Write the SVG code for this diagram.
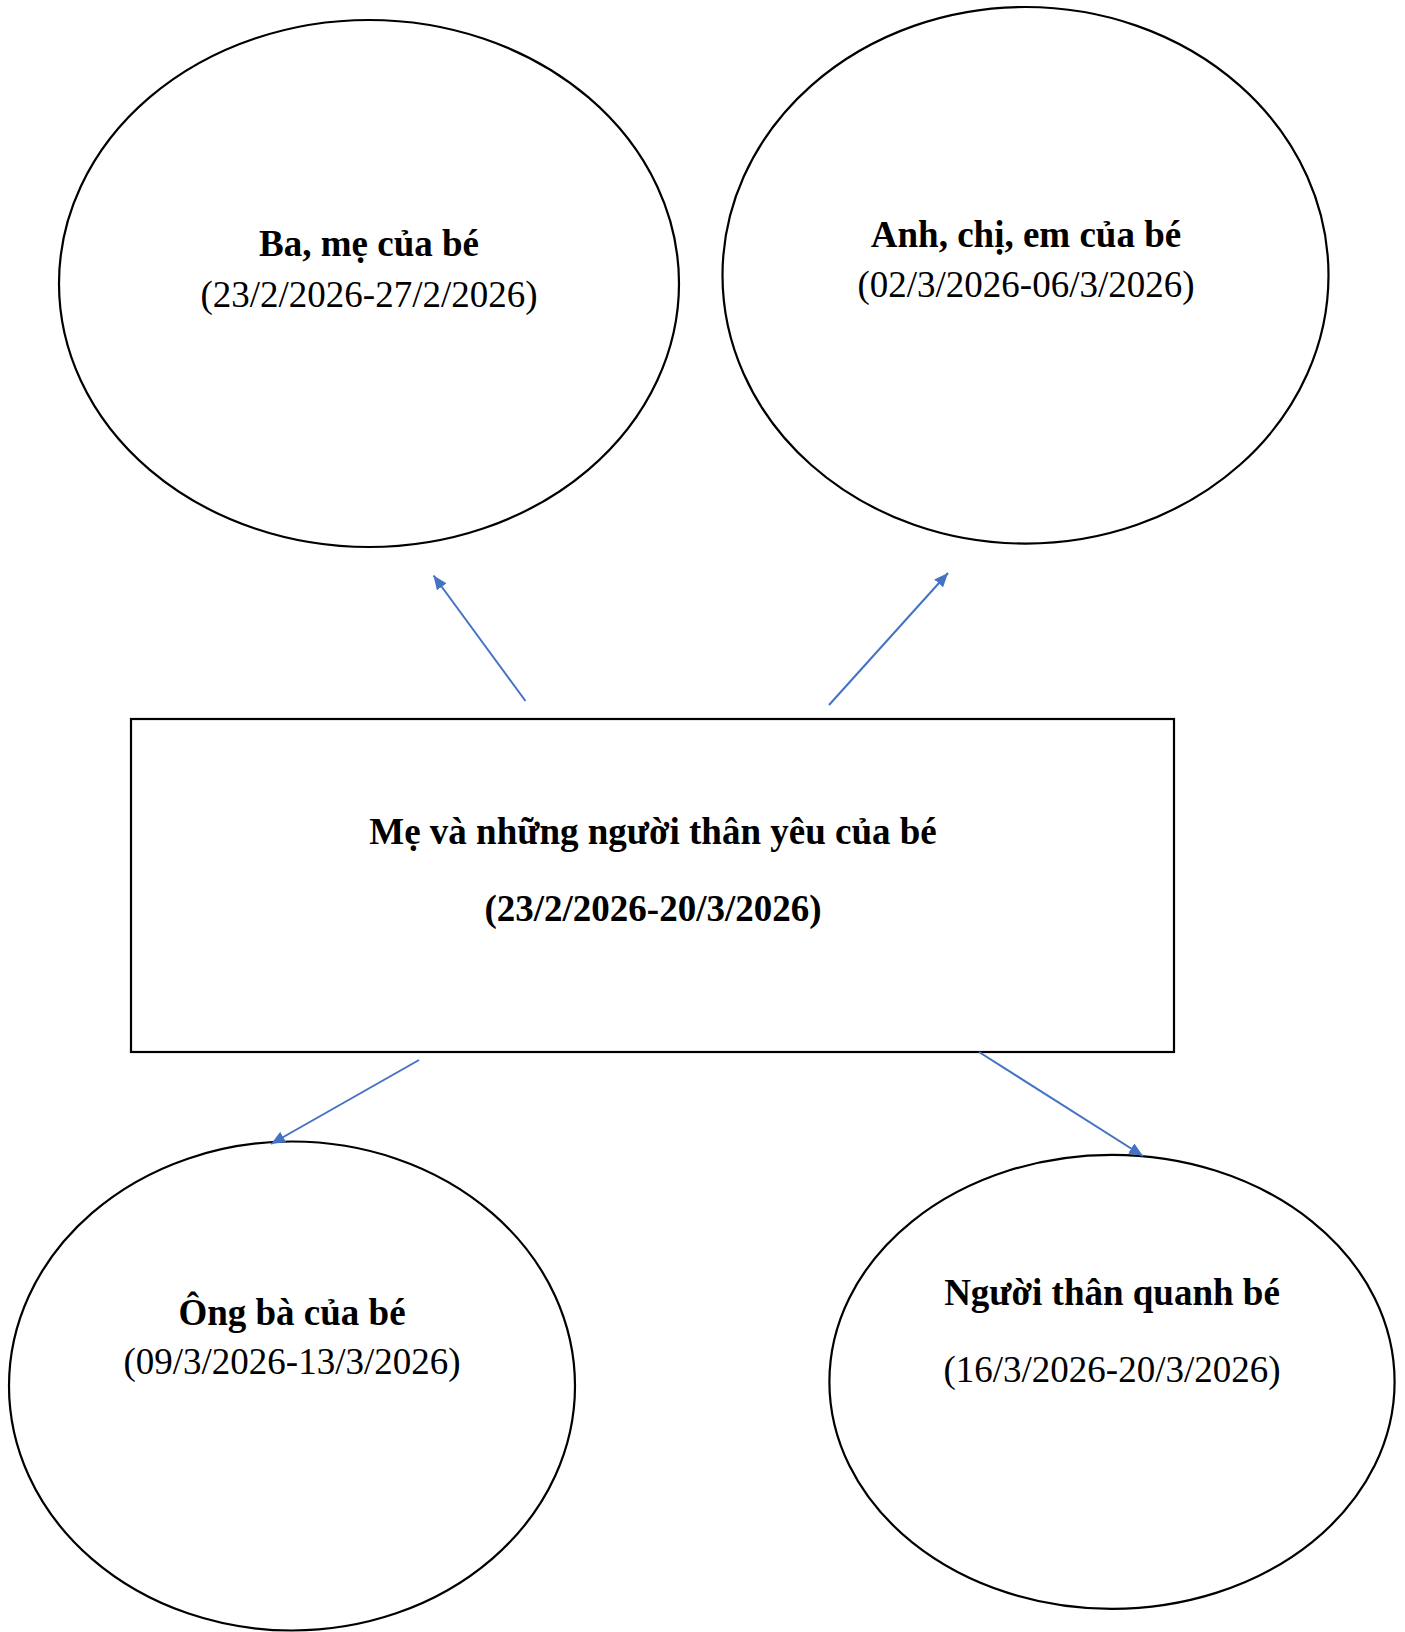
<svg xmlns="http://www.w3.org/2000/svg" width="1405" height="1632" viewBox="0 0 1405 1632">
<defs>
<style>
.shape{fill:#fff;stroke:#000;stroke-width:2.2}
.t{font-family:"Liberation Serif","Times New Roman",serif;font-size:37px;fill:#000;text-anchor:middle}
.b{font-weight:bold}
.conn{stroke:#4472C4;stroke-width:2;fill:none}
</style>
<marker id="ah" markerUnits="userSpaceOnUse" markerWidth="16" markerHeight="12" refX="14" refY="6" orient="auto">
<path d="M0,0 L14,6 L0,12 Z" fill="#4472C4"/>
</marker>
</defs>
<rect width="1405" height="1632" fill="#fff"/>
<g id="node-bame">
<ellipse class="shape" cx="369" cy="283.5" rx="310" ry="263.5"/>
<text class="t b" x="369" y="256">Ba, mẹ của bé</text>
<text class="t" x="369" y="307">(23/2/2026-27/2/2026)</text>
</g>
<g id="node-anhchiem">
<ellipse class="shape" cx="1025.5" cy="275.3" rx="303" ry="268.3"/>
<text class="t b" x="1026" y="247">Anh, chị, em của bé</text>
<text class="t" x="1026" y="297">(02/3/2026-06/3/2026)</text>
</g>
<g id="node-center">
<rect class="shape" x="131" y="719" width="1043" height="333"/>
<text class="t b" x="653" y="844">Mẹ và những người thân yêu của bé</text>
<text class="t b" x="653" y="921">(23/2/2026-20/3/2026)</text>
</g>
<g id="node-ongba">
<ellipse class="shape" cx="292" cy="1386" rx="283" ry="244.5"/>
<text class="t b" x="292" y="1325">Ông bà của bé</text>
<text class="t" x="292" y="1374">(09/3/2026-13/3/2026)</text>
</g>
<g id="node-nguoithan">
<ellipse class="shape" cx="1112" cy="1381.8" rx="282.6" ry="227"/>
<text class="t b" x="1112" y="1305">Người thân quanh bé</text>
<text class="t" x="1112" y="1382">(16/3/2026-20/3/2026)</text>
</g>
<g id="connectors">
<line class="conn" x1="525.5" y1="701" x2="433.5" y2="575.5" marker-end="url(#ah)"/>
<line class="conn" x1="829" y1="705" x2="948" y2="573" marker-end="url(#ah)"/>
<line class="conn" x1="419" y1="1060" x2="271" y2="1144" marker-end="url(#ah)"/>
<line class="conn" x1="979" y1="1052" x2="1143" y2="1156" marker-end="url(#ah)"/>
</g>
</svg>
